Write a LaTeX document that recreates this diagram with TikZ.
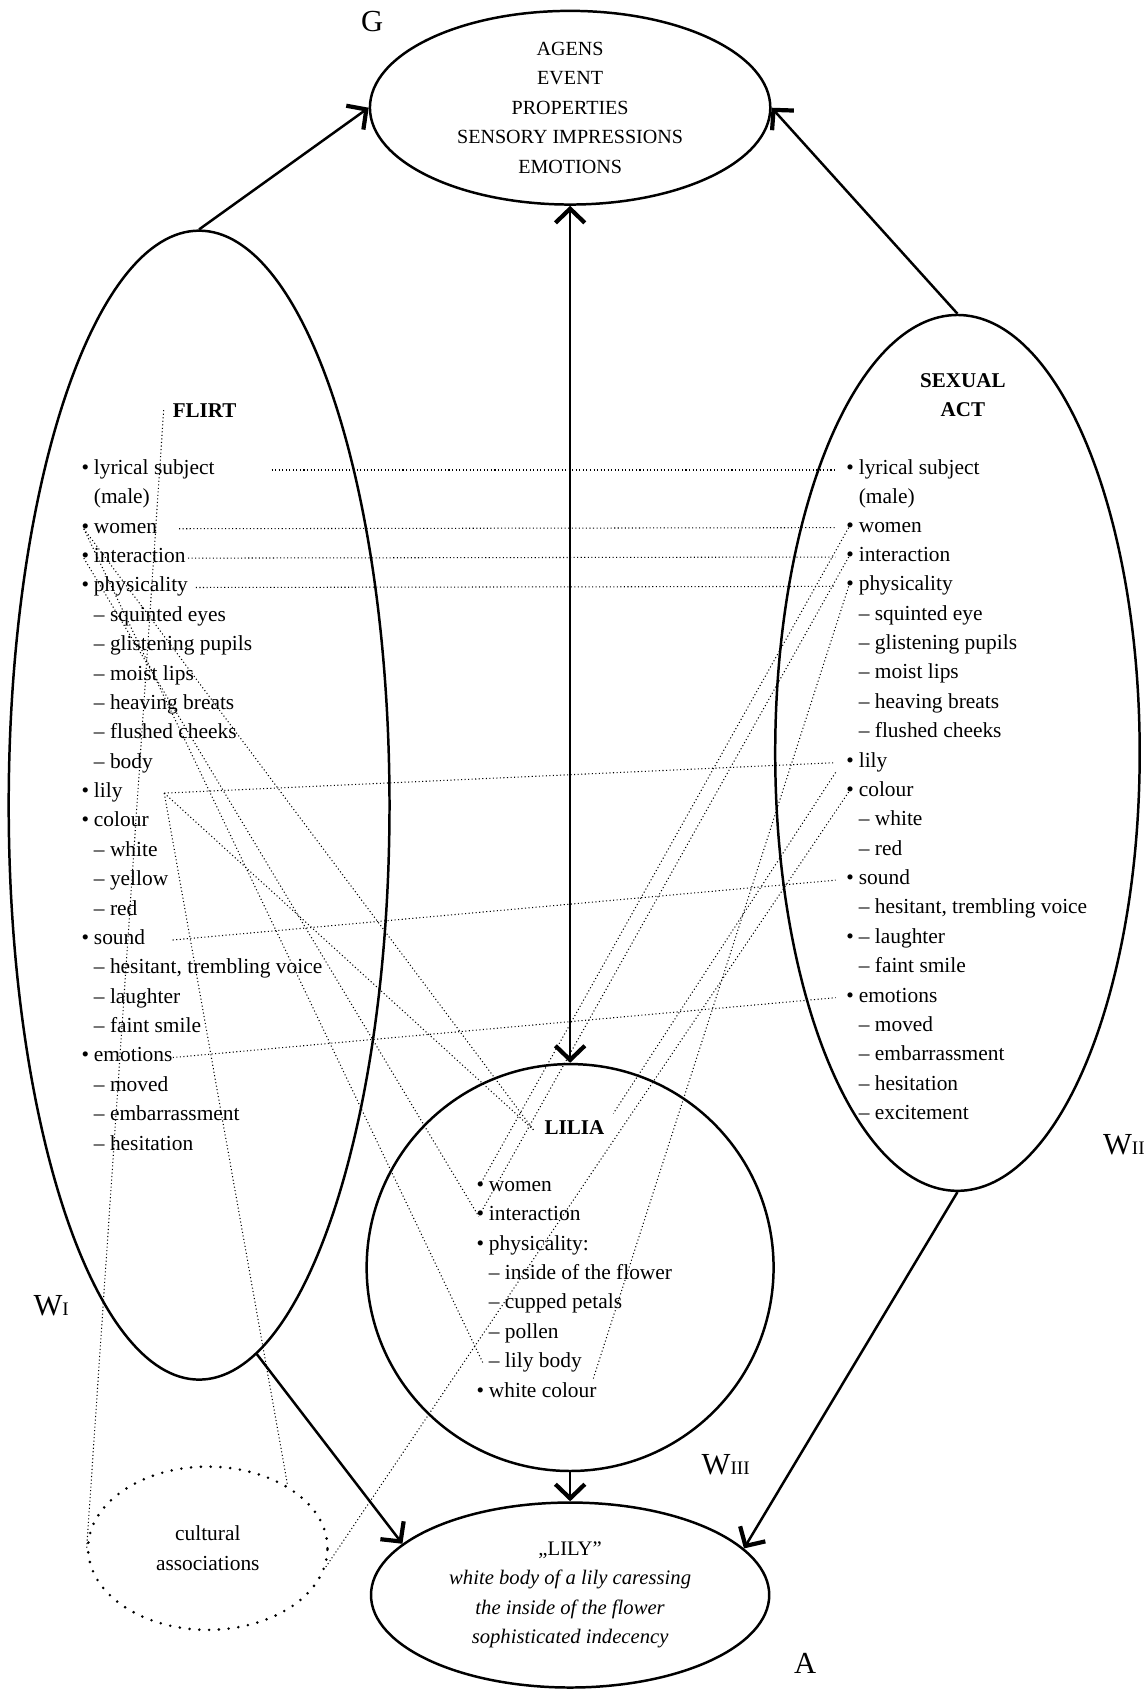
\documentclass[tikz,border=0pt]{standalone}
\usepackage{fontspec}
\setmainfont{Liberation Serif}
\usepackage{tikz}
\usetikzlibrary{shapes.geometric, arrows.meta}
\tikzstyle{arrow} = [line width=1.3pt, ->, >={Straight Barb[length=2.6mm, width=5.4mm, line width=2.2pt]}]
\tikzstyle{assoc} = [line width=0.55pt, dash pattern=on 0.55pt off 1.3pt]
\tikzstyle{zone} = [draw, ellipse, line width=1.3pt, inner sep=0pt]
\tikzstyle{entry} = [anchor=base west, inner sep=0pt, font=\fontsize{11.2}{12}\selectfont]
\tikzstyle{heading} = [inner sep=0pt, align=center, font=\fontsize{11}{15.4}\selectfont\bfseries]
\tikzstyle{wlabel} = [inner sep=0pt, font=\fontsize{16}{18}\selectfont]
\newcommand{\bul}{\llap{\textbullet\hspace{0.9mm}}}
\newcommand{\idx}[1]{{\fontsize{10}{10}\selectfont #1}}

\begin{document}
\begin{tikzpicture}[x=0.2mm, y=-0.2mm]
        \useasboundingbox (0,0) rectangle (1051,1568);
        % fields
        \node[zone, minimum width=73.6mm, minimum height=35.6mm, align=center, font=\fontsize{10.5}{15.4}\selectfont] (G) at (524,99) {AGENS\\EVENT\\PROPERTIES\\SENSORY IMPRESSIONS\\EMOTIONS};
        \node[zone, minimum width=70mm, minimum height=211.2mm] (fl) at (183,740) {};
        \node[zone, minimum width=67mm, minimum height=161mm] (sx) at (880,692) {};
        \node[zone, circle, minimum size=74.8mm] (li) at (524,1165) {};
        \node[zone, minimum width=73.2mm, minimum height=34mm, align=center, font=\fontsize{10.8}{15.4}\selectfont] (A) at (524,1466) {„LILY”\\\textit{white body of a lily caressing}\\\textit{the inside of the flower}\\\textit{sophisticated indecency}};
        \node[draw, ellipse, line width=1.5pt, dash pattern=on 0pt off 1.8mm, line cap=round, minimum width=44mm, minimum height=30mm, inner sep=0pt, align=center, font=\fontsize{11.2}{15.4}\selectfont] (cult) at (191,1423) {cultural\\associations};
        % labels
        \node[wlabel] (g-lab) at (342,20) {G};
        \node[wlabel] (a-lab) at (740,1529) {A};
        \node[wlabel] (w1) at (47,1200) {W\idx{I}};
        \node[wlabel] (w2) at (1033,1052) {W\idx{II}};
        \node[wlabel] (w3) at (667,1346) {W\idx{III}};
        \node[heading] (fl-title) at (188,377) {FLIRT};
        \node[heading] (sx-title) at (885,363) {SEXUAL\\ACT};
        \node[heading] (li-title) at (528,1036) {LILIA};
        % FLIRT
        \node[entry] (fl-lyr) at (86,436) {\bul lyrical subject};
        \node[entry] (fl-male) at (86,463) {(male)};
        \node[entry] (fl-women) at (86,490) {\bul women};
        \node[entry] (fl-inter) at (86,517) {\bul interaction};
        \node[entry] (fl-phys) at (86,544) {\bul physicality};
        \node[entry] (fl-eyes) at (86,571) {-- squinted eyes};
        \node[entry] (fl-pupils) at (86,598) {-- glistening pupils};
        \node[entry] (fl-lips) at (86,625) {-- moist lips};
        \node[entry] (fl-breasts) at (86,652) {-- heaving breats};
        \node[entry] (fl-cheeks) at (86,679) {-- flushed cheeks};
        \node[entry] (fl-body) at (86,706) {-- body};
        \node[entry] (fl-lily) at (86,733) {\bul lily};
        \node[entry] (fl-colour) at (86,760) {\bul colour};
        \node[entry] (fl-white) at (86,787) {-- white};
        \node[entry] (fl-yellow) at (86,814) {-- yellow};
        \node[entry] (fl-red) at (86,841) {-- red};
        \node[entry] (fl-sound) at (86,868) {\bul sound};
        \node[entry] (fl-voice) at (86,895) {-- hesitant, trembling voice};
        \node[entry] (fl-laugh) at (86,922) {-- laughter};
        \node[entry] (fl-smile) at (86,949) {-- faint smile};
        \node[entry] (fl-emo) at (86,976) {\bul emotions};
        \node[entry] (fl-moved) at (86,1003) {-- moved};
        \node[entry] (fl-embar) at (86,1030) {-- embarrassment};
        \node[entry] (fl-hesit) at (86,1057) {-- hesitation};
        % SEXUAL ACT
        \node[entry] (sx-lyr) at (789,436) {\bul lyrical subject};
        \node[entry] (sx-male) at (789,463) {(male)};
        \node[entry] (sx-women) at (789,489) {\bul women};
        \node[entry] (sx-inter) at (789,516) {\bul interaction};
        \node[entry] (sx-phys) at (789,543) {\bul physicality};
        \node[entry] (sx-eye) at (789,570) {-- squinted eye};
        \node[entry] (sx-pupils) at (789,597) {-- glistening pupils};
        \node[entry] (sx-lips) at (789,624) {-- moist lips};
        \node[entry] (sx-breasts) at (789,651) {-- heaving breats};
        \node[entry] (sx-cheeks) at (789,678) {-- flushed cheeks};
        \node[entry] (sx-lily) at (789,705) {\bul lily};
        \node[entry] (sx-colour) at (789,732) {\bul colour};
        \node[entry] (sx-white) at (789,759) {-- white};
        \node[entry] (sx-red) at (789,786) {-- red};
        \node[entry] (sx-sound) at (789,813) {\bul sound};
        \node[entry] (sx-voice) at (789,840) {-- hesitant, trembling voice};
        \node[entry] (sx-laugh) at (789,867) {\bul -- laughter};
        \node[entry] (sx-smile) at (789,894) {-- faint smile};
        \node[entry] (sx-emo) at (789,921) {\bul emotions};
        \node[entry] (sx-moved) at (789,948) {-- moved};
        \node[entry] (sx-embar) at (789,975) {-- embarrassment};
        \node[entry] (sx-hesit) at (789,1002) {-- hesitation};
        \node[entry] (sx-excit) at (789,1029) {-- excitement};
        % LILIA
        \node[entry] (li-women) at (449,1095) {\bul women};
        \node[entry] (li-inter) at (449,1122) {\bul interaction};
        \node[entry] (li-phys) at (449,1149) {\bul physicality:};
        \node[entry] (li-inside) at (449,1176) {-- inside of the flower};
        \node[entry] (li-petals) at (449,1203) {-- cupped petals};
        \node[entry] (li-pollen) at (449,1230) {-- pollen};
        \node[entry] (li-body) at (449,1257) {-- lily body};
        \node[entry] (li-white) at (449,1284) {\bul white colour};
        % arrows
        \draw[arrow] (fl.north) -- (G.west);
        \draw[arrow] (sx.north) -- (G.east);
        \draw[arrow, <->] (G.south) -- (li.north);
        \draw[arrow] (li.south) -- (A.north);
        \draw[arrow] (fl.-84) -- (A.163);
        \draw[arrow] (sx.south) -- (A.15);
        % FLIRT - SEXUAL ACT
        \draw[assoc] ([xshift=10.4mm]fl-lyr.mid east) -- ([xshift=-4.2mm]sx-lyr.mid west);
        \draw[assoc] ([xshift=4mm]fl-women.mid east) -- ([xshift=-4.2mm]sx-women.mid west);
        \draw[assoc] ([xshift=0.4mm]fl-inter.mid east) -- ([xshift=-4.2mm]sx-inter.mid west);
        \draw[assoc] ([xshift=1.4mm]fl-phys.mid east) -- ([xshift=-4.2mm]sx-phys.mid west);
        \draw[assoc] ([xshift=7.6mm]fl-lily.mid east) -- ([xshift=-4.2mm]sx-lily.mid west);
        \draw[assoc] ([xshift=5mm]fl-sound.mid east) -- ([xshift=-4.2mm]sx-sound.mid west);
        \draw[assoc] (fl-emo.mid east) -- ([xshift=-4.2mm]sx-emo.mid west);
        % FLIRT - LILIA
        \draw[assoc] ([xshift=-1.8mm]fl-women.mid west) -- ([xshift=-2mm]li-title.mid west);
        \draw[assoc] ([xshift=-1.8mm]fl-women.mid west) -- ([xshift=-1mm]li-body.mid west);
        \draw[assoc] ([xshift=-1.8mm]fl-inter.mid west) -- ([xshift=-1.8mm]li-inter.mid west);
        \draw[assoc] ([xshift=7.6mm]fl-lily.mid east) -- ([xshift=-2mm]li-title.mid west);
        % SEXUAL ACT - LILIA
        \draw[assoc] ([xshift=-1.8mm]sx-women.mid west) -- ([xshift=-1.8mm]li-women.mid west);
        \draw[assoc] ([xshift=-1.8mm]sx-inter.mid west) -- ([xshift=-1.8mm]li-inter.mid west);
        \draw[assoc] ([xshift=-1.8mm]sx-phys.mid west) -- ([xshift=2mm,yshift=-3mm]li-body.mid east);
        \draw[assoc] ([xshift=-4.2mm,yshift=-1.8mm]sx-lily.mid west) -- ([xshift=1.6mm,yshift=3mm]li-title.mid east);
        % cultural associations
        \draw[assoc] ([xshift=-1.6mm]fl-title.west) -- (cult.west);
        \draw[assoc] ([xshift=7.6mm]fl-lily.mid east) -- (cult.38);
        \draw[assoc] ([xshift=-1.8mm]sx-colour.mid west) -- (cult.-9);
    \end{tikzpicture}
\end{document}
